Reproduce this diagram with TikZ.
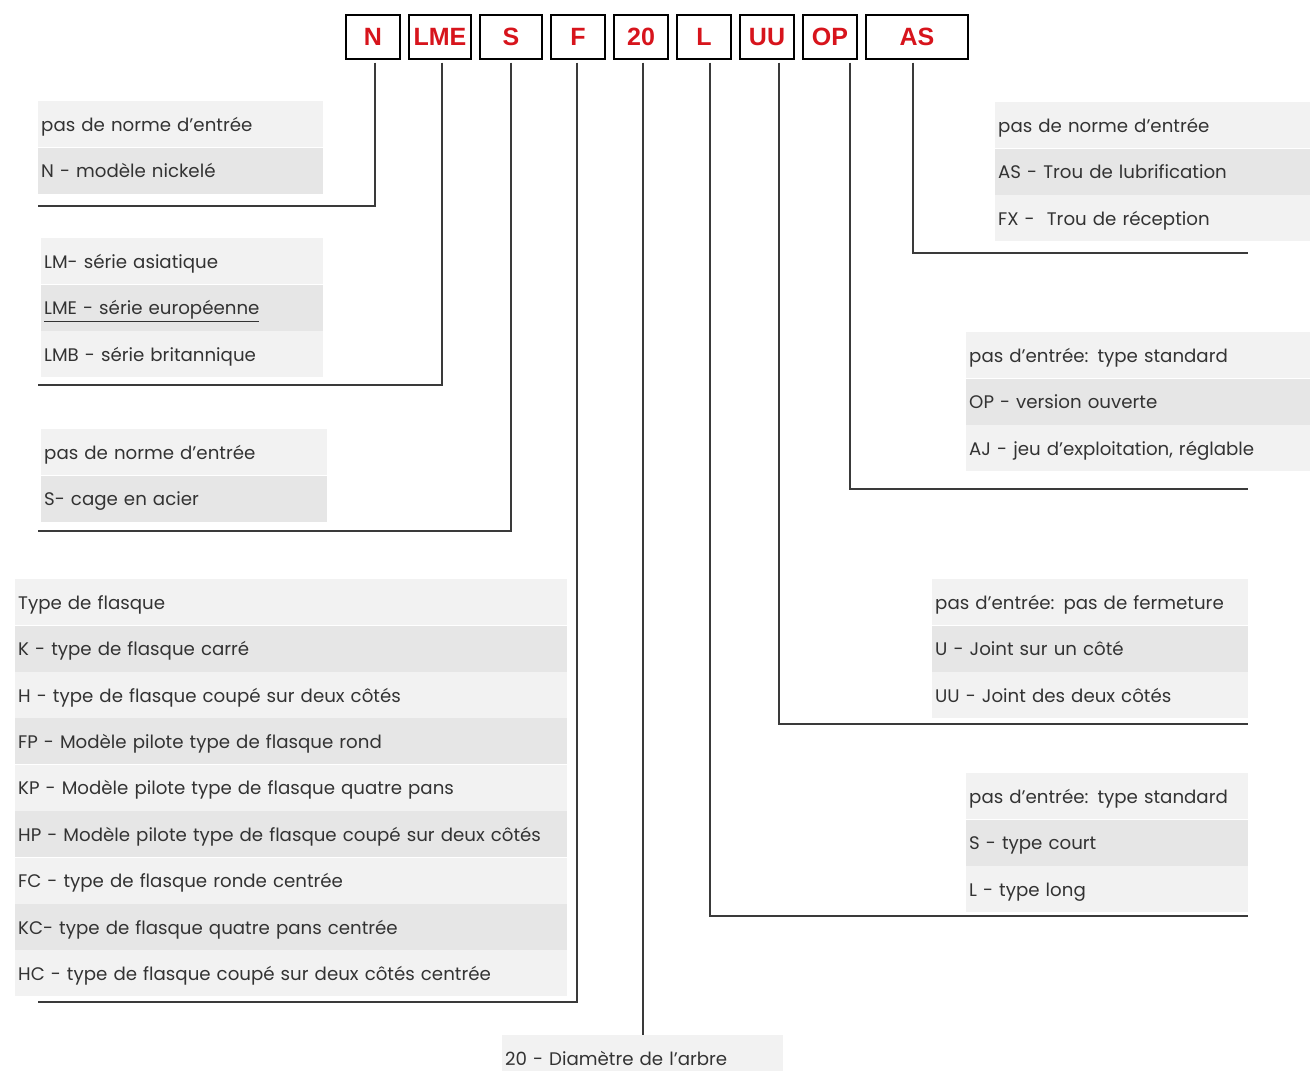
\documentclass[tikz,border=0pt]{standalone}
\usepackage{fontspec}
\setmainfont{Poppins}
\newfontfamily\codefont{Liberation Sans}
\usetikzlibrary{positioning}

\definecolor{rowlight}{HTML}{F2F2F2}
\definecolor{rowdark}{HTML}{E6E6E6}
\definecolor{codered}{HTML}{D7141C}
\definecolor{textgray}{HTML}{333333}
\definecolor{linegray}{HTML}{3A3A3A}

\tikzset{
  code/.style={draw=black, line width=1.1pt, minimum height=44pt, inner sep=0pt,
    minimum width=#1, text=codered, font=\codefont\bfseries\fontsize{25}{25}\selectfont},
  code/.default=54pt,
  row/.style={anchor=north west, minimum height=46pt, inner xsep=3pt, inner ysep=0pt,
    text width=#1, text height=16pt, text depth=2pt, align=left, text=textgray,
    font=\fontsize{18.2}{20}\selectfont},
  lt/.style={fill=rowlight},
  dk/.style={fill=rowdark},
  link/.style={draw=linegray, line width=1.1pt}
}

\begin{document}
\begin{tikzpicture}[x=1pt, y=-1pt]
\useasboundingbox[fill=white] (0,0) rectangle (1310,1071);

% code boxes
\node[code] (cN) at (373,37) {N};
\node[code=62pt, right=7.9pt of cN] (cLME) {LME};
\node[code=62pt, right=7.9pt of cLME] (cS) {S};
\node[code, right=7.9pt of cS] (cF) {F};
\node[code, right=7.9pt of cF] (c20) {20};
\node[code, right=7.9pt of c20] (cL) {L};
\node[code, right=7.9pt of cL] (cUU) {UU};
\node[code, right=7.9pt of cUU] (cOP) {OP};
\node[code=102pt, right=7.9pt of cOP] (cAS) {AS};

% N
\node[row=279pt, lt] (n1) at (38,101) {pas de norme d'entrée};
\node[row=279pt, dk, below=0pt of n1] (n2) {N - modèle nickelé};

% LME
\node[row=276pt, lt] (m1) at (41,238) {LM- série asiatique};
\node[row=276pt, dk, below=0pt of m1] (m2) {\underline{LME - série européenne}};
\node[row=276pt, lt, below=0pt of m2] (m3) {LMB - série britannique};

% S
\node[row=280pt, lt] (s1) at (41,429) {pas de norme d'entrée};
\node[row=280pt, dk, below=0pt of s1] (s2) {S- cage en acier};

% F
\node[row=546pt, lt] (f1) at (15,579) {Type de flasque};
\node[row=546pt, dk, below=0pt of f1] (f2) {K - type de flasque carré};
\node[row=546pt, lt, below=0pt of f2] (f3) {H - type de flasque coupé sur deux côtés};
\node[row=546pt, dk, below=0pt of f3] (f4) {FP - Modèle pilote type de flasque rond};
\node[row=546pt, lt, below=0pt of f4] (f5) {KP - Modèle pilote type de flasque quatre pans};
\node[row=546pt, dk, below=0pt of f5] (f6) {HP - Modèle pilote type de flasque coupé sur deux côtés};
\node[row=546pt, lt, below=0pt of f6] (f7) {FC - type de flasque ronde centrée};
\node[row=546pt, dk, below=0pt of f7] (f8) {KC- type de flasque quatre pans centrée};
\node[row=546pt, lt, below=0pt of f8] (f9) {HC - type de flasque coupé sur deux côtés centrée};

% 20
\node[row=275pt, lt] (d1) at (502,1035) {20 - Diamètre de l'arbre};

% L
\node[row=276pt, lt] (l1) at (966,773) {pas d'entrée: type standard};
\node[row=276pt, dk, below=0pt of l1] (l2) {S - type court};
\node[row=276pt, lt, below=0pt of l2] (l3) {L - type long};

% UU
\node[row=310pt, lt] (u1) at (932,579) {pas d'entrée: pas de fermeture};
\node[row=310pt, dk, below=0pt of u1] (u2) {U - Joint sur un côté};
\node[row=310pt, lt, below=0pt of u2] (u3) {UU - Joint des deux côtés};

% OP
\node[row=338pt, lt] (o1) at (966,332) {pas d'entrée: type standard};
\node[row=338pt, dk, below=0pt of o1] (o2) {OP - version ouverte};
\node[row=338pt, lt, below=0pt of o2] (o3) {AJ - jeu d'exploitation, réglable};

% AS
\node[row=309pt, lt] (a1) at (995,102) {pas de norme d'entrée};
\node[row=309pt, dk, below=0pt of a1] (a2) {AS - Trou de lubrification};
\node[row=309pt, lt, below=0pt of a2] (a3) {FX -\ \ Trou de réception};

% line ends
\coordinate (eN) at (38,206);
\coordinate (eLME) at (38,385);
\coordinate (eS) at (38,531);
\coordinate (eF) at (38,1002);
\coordinate (eL) at (1248,916);
\coordinate (eUU) at (1248,724);
\coordinate (eOP) at (1248,489);
\coordinate (eAS) at (1248,253);

% connectors
\draw[link] ([xshift=2pt, yshift=-3pt]cN.south) |- (eN);
\draw[link] ([xshift=2pt, yshift=-3pt]cLME.south) |- (eLME);
\draw[link] ([yshift=-3pt]cS.south) |- (eS);
\draw[link] ([xshift=-1pt, yshift=-3pt]cF.south) |- (eF);
\draw[link] ([xshift=2pt, yshift=-3pt]c20.south) -- ([xshift=2pt]c20.south |- d1.north);
\draw[link] ([xshift=6pt, yshift=-3pt]cL.south) |- (eL);
\draw[link] ([xshift=12pt, yshift=-3pt]cUU.south) |- (eUU);
\draw[link] ([xshift=20pt, yshift=-3pt]cOP.south) |- (eOP);
\draw[link] ([xshift=-4pt, yshift=-3pt]cAS.south) |- (eAS);
\end{tikzpicture}
\end{document}
